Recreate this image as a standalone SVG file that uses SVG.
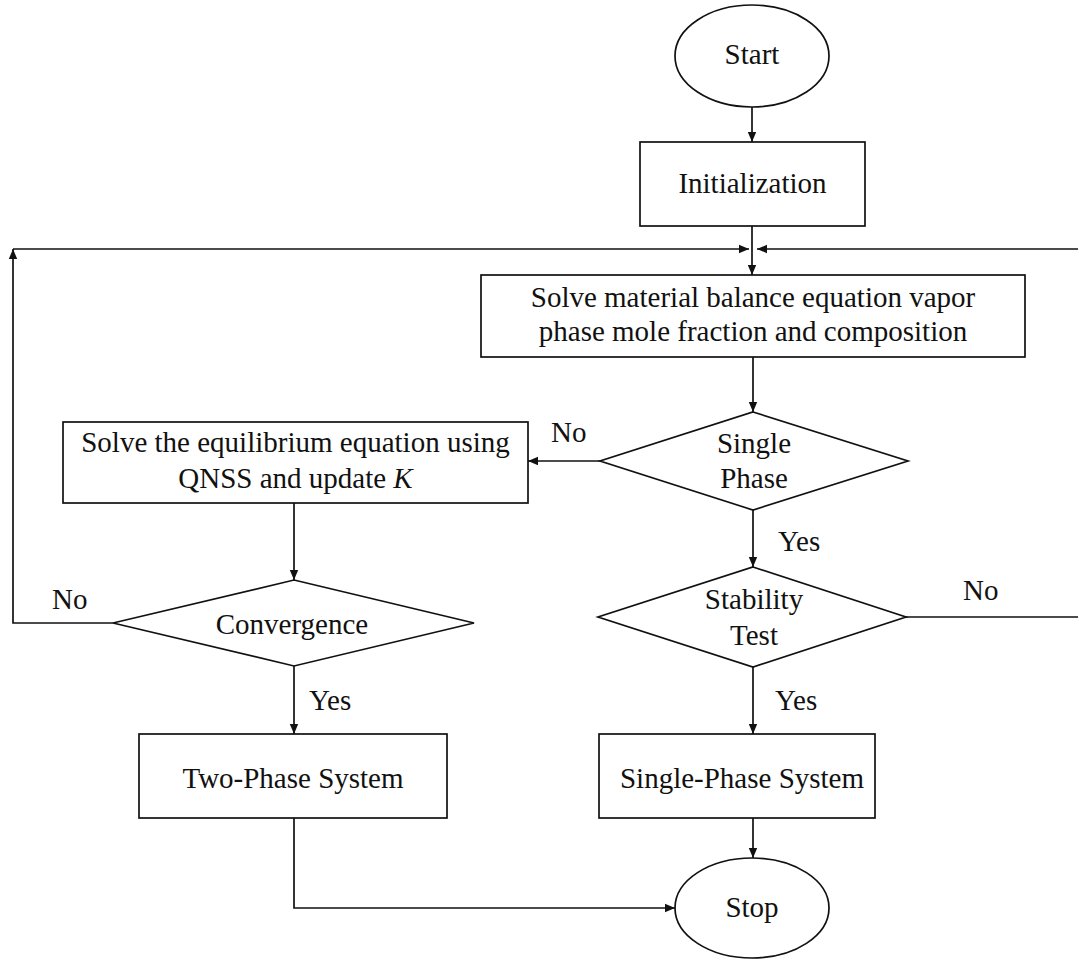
<svg xmlns="http://www.w3.org/2000/svg" width="1078" height="959" viewBox="0 0 1078 959">
<style>
.s{fill:#fff;stroke:#111;stroke-width:1.7}
.c{fill:none;stroke:#111;stroke-width:1.7}
text{font-family:"Liberation Serif","Times New Roman",serif;font-size:29px;fill:#111}
.m{text-anchor:middle}
</style>
<defs>
<marker id="a" viewBox="0 0 10 10" refX="10" refY="5" markerWidth="10" markerHeight="10" markerUnits="userSpaceOnUse" orient="auto">
<path d="M0,0.8 L10,5 L0,9.2 z" fill="#111"/>
</marker>
</defs>
<rect width="1078" height="959" fill="#fff"/>
<g id="connectors">
<path class="c" d="M752,107 V142" marker-end="url(#a)"/>
<path class="c" d="M752,226 V275" marker-end="url(#a)"/>
<path class="c" d="M113,623 H13 V249" marker-end="url(#a)"/>
<path class="c" d="M13,249 H749" marker-end="url(#a)"/>
<path class="c" d="M906,617 H1080 V249 H757" marker-end="url(#a)"/>
<path class="c" d="M753,357 V412" marker-end="url(#a)"/>
<path class="c" d="M600,461 H528" marker-end="url(#a)"/>
<path class="c" d="M753,510 V567" marker-end="url(#a)"/>
<path class="c" d="M294,503 V580" marker-end="url(#a)"/>
<path class="c" d="M294,666 V734" marker-end="url(#a)"/>
<path class="c" d="M753,667 V734" marker-end="url(#a)"/>
<path class="c" d="M753,818 V858" marker-end="url(#a)"/>
<path class="c" d="M294,818 V908 H675" marker-end="url(#a)"/>
<text x="551" y="442">No</text>
<text x="52" y="609">No</text>
<text x="963" y="600">No</text>
<text x="778" y="551">Yes</text>
<text x="309" y="710">Yes</text>
<text x="775" y="710">Yes</text>
</g>
<g id="start">
<ellipse class="s" cx="752" cy="56" rx="77" ry="51"/>
<text class="m" x="752" y="64">Start</text>
</g>
<g id="init">
<rect class="s" x="640" y="142" width="225" height="84"/>
<text class="m" x="752.5" y="193">Initialization</text>
</g>
<g id="material">
<rect class="s" x="481" y="275" width="544" height="82"/>
<text class="m" x="753" y="307">Solve material balance equation vapor</text>
<text class="m" x="753" y="341">phase mole fraction and composition</text>
</g>
<g id="single-phase-q">
<polygon class="s" points="753,412 908,461 753,510 600,461"/>
<text class="m" x="754" y="453">Single</text>
<text class="m" x="754" y="488">Phase</text>
</g>
<g id="equilibrium">
<rect class="s" x="63" y="422" width="465" height="81"/>
<text class="m" x="295.5" y="452">Solve the equilibrium equation using</text>
<text class="m" x="295.5" y="488">QNSS and update <tspan font-style="italic">K</tspan></text>
</g>
<g id="stability">
<polygon class="s" points="753,567 906,617 753,667 598,617"/>
<text class="m" x="754" y="609">Stability</text>
<text class="m" x="754" y="645">Test</text>
</g>
<g id="convergence">
<polygon class="s" points="294,580 474,623 294,666 113,623"/>
<text class="m" x="292" y="634">Convergence</text>
</g>
<g id="two-phase">
<rect class="s" x="139" y="734" width="308" height="84"/>
<text class="m" x="293" y="788">Two-Phase System</text>
</g>
<g id="single-phase-sys">
<rect class="s" x="599" y="734" width="276" height="84"/>
<text class="m" x="742" y="788">Single-Phase System</text>
</g>
<g id="stop">
<ellipse class="s" cx="752" cy="908" rx="77" ry="50"/>
<text class="m" x="752" y="917">Stop</text>
</g>
</svg>
